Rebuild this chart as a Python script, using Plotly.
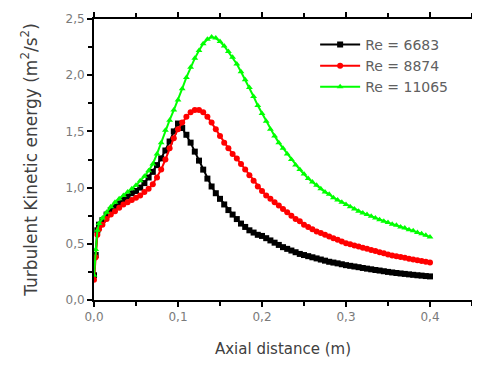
import plotly.graph_objects as go

# Axial distance (m)
axial_distance = [
    0, 0.002, 0.004, 0.006, 0.01, 0.015, 0.02, 0.025, 0.03, 0.035,
    0.04, 0.045, 0.05, 0.055, 0.06, 0.065, 0.07, 0.075, 0.08, 0.085,
    0.09, 0.095, 0.1, 0.105, 0.11, 0.115, 0.12, 0.125, 0.13, 0.135,
    0.14, 0.145, 0.15, 0.155, 0.16, 0.165, 0.17, 0.175, 0.18, 0.185,
    0.19, 0.195, 0.2, 0.205, 0.21, 0.215, 0.22, 0.225, 0.23, 0.235,
    0.24, 0.245, 0.25, 0.255, 0.26, 0.265, 0.27, 0.275, 0.28, 0.285,
    0.29, 0.295, 0.3, 0.305, 0.31, 0.315, 0.32, 0.325, 0.33, 0.335,
    0.34, 0.345, 0.35, 0.355, 0.36, 0.365, 0.37, 0.375, 0.38, 0.385,
    0.39, 0.395, 0.4,
]

# Turbulent kinetic energy (m2/s2) for each Reynolds number
tke_re_6683 = [
    0.22, 0.40, 0.62, 0.67, 0.71, 0.76, 0.80, 0.83, 0.86, 0.89,
    0.92, 0.95, 0.97, 1.00, 1.04, 1.09, 1.14, 1.20, 1.26, 1.33,
    1.41, 1.50, 1.57, 1.53, 1.47, 1.40, 1.32, 1.24, 1.16, 1.08,
    1.01, 0.95, 0.90, 0.85, 0.80, 0.76, 0.72, 0.68, 0.65, 0.62,
    0.60, 0.58, 0.57, 0.55, 0.53, 0.51, 0.49, 0.47, 0.455, 0.44,
    0.425, 0.41, 0.40, 0.39, 0.38, 0.37, 0.36, 0.35, 0.34, 0.333,
    0.326, 0.318, 0.31, 0.304, 0.298, 0.292, 0.285, 0.279, 0.273, 0.267,
    0.262, 0.256, 0.25, 0.245, 0.24, 0.236, 0.232, 0.228, 0.224, 0.22,
    0.217, 0.213, 0.21,
]
tke_re_8874 = [
    0.18, 0.38, 0.58, 0.63, 0.67, 0.72, 0.76, 0.79, 0.82, 0.85,
    0.87, 0.89, 0.91, 0.93, 0.96, 0.99, 1.03, 1.09, 1.16, 1.25,
    1.35, 1.44, 1.52, 1.58, 1.63, 1.67, 1.69, 1.69, 1.67, 1.63,
    1.58, 1.52, 1.46, 1.40, 1.35, 1.30, 1.26, 1.21, 1.16, 1.11,
    1.06, 1.01, 0.97, 0.93, 0.90, 0.87, 0.84, 0.81, 0.78, 0.75,
    0.72, 0.70, 0.67, 0.65, 0.63, 0.61, 0.595, 0.58, 0.565, 0.55,
    0.535, 0.52, 0.505, 0.495, 0.485, 0.475, 0.465, 0.455, 0.445, 0.435,
    0.425, 0.415, 0.405, 0.397, 0.39, 0.382, 0.375, 0.368, 0.36, 0.353,
    0.347, 0.34, 0.334,
]
tke_re_11065 = [
    0.22, 0.45, 0.62, 0.68, 0.73, 0.78, 0.83, 0.87, 0.90, 0.93,
    0.96, 0.99, 1.02, 1.06, 1.10, 1.15, 1.21, 1.30, 1.40, 1.51,
    1.60, 1.69, 1.78, 1.88, 1.98, 2.07, 2.15, 2.22, 2.28, 2.32,
    2.34, 2.33, 2.30, 2.26, 2.21, 2.16, 2.10, 2.03, 1.96, 1.89,
    1.81, 1.73, 1.66, 1.59, 1.52, 1.46, 1.40, 1.35, 1.30, 1.25,
    1.20, 1.16, 1.12, 1.08, 1.05, 1.02, 0.99, 0.96, 0.94, 0.91,
    0.89, 0.87, 0.85, 0.83, 0.81, 0.79, 0.775, 0.76, 0.745, 0.73,
    0.715, 0.70, 0.69, 0.675, 0.665, 0.65, 0.64, 0.625, 0.615, 0.60,
    0.59, 0.575, 0.56,
]

series = [
    ("Re = 6683", tke_re_6683, "#000000", "square"),
    ("Re = 8874", tke_re_8874, "#ff0000", "circle"),
    ("Re = 11065", tke_re_11065, "#00ff00", "triangle-up"),
]

fig = go.Figure()
for name, values, color, symbol in series:
    fig.add_trace(go.Scatter(
        x=axial_distance, y=values, name=name, mode="lines+markers",
        line=dict(color=color, width=2),
        marker=dict(symbol=symbol, size=6, color=color),
    ))

font_name = "DejaVu Sans"
tick_font = dict(family=font_name, size=12, color="#7a7a7a")
axis_common = dict(
    showline=True, linecolor="black", linewidth=2, mirror="ticks",
    showgrid=False, zeroline=False, ticks="outside",
    ticklen=5, tickwidth=2, tickcolor="black", automargin=False,
    tickformat=".1f", tickfont=tick_font,
)

# the page body has an 8px margin, so the figure is shifted by 8px
fig.update_layout(
    template="simple_white",
    width=480, height=367,
    margin=dict(l=86, r=16, t=11, b=75),
    separators=",.",
    xaxis=dict(
        axis_common, range=[0, 0.45], dtick=0.1, tick0=0,
        minor=dict(dtick=0.05, ticks="outside", ticklen=4, tickcolor="black", tickwidth=2),
        title=dict(text="Axial distance (m)",
                   font=dict(family=font_name, size=15, color="#404040"), standoff=20),
    ),
    yaxis=dict(
        axis_common, range=[0, 2.5], dtick=0.5, tick0=0,
        minor=dict(dtick=0.25, ticks="outside", ticklen=4, tickcolor="black", tickwidth=2),
        title=dict(text="Turbulent Kinetic energy (m<sup>2</sup>/s<sup>2</sup>)",
                   font=dict(family=font_name, size=17, color="#404040"), standoff=24),
    ),
    legend=dict(
        x=0.585, y=0.965, xanchor="left", yanchor="top",
        bgcolor="rgba(0,0,0,0)",
        font=dict(family=font_name, size=14, color="#606060"),
        tracegroupgap=0, itemwidth=40,
    ),
)

fig.write_html("out.html")
